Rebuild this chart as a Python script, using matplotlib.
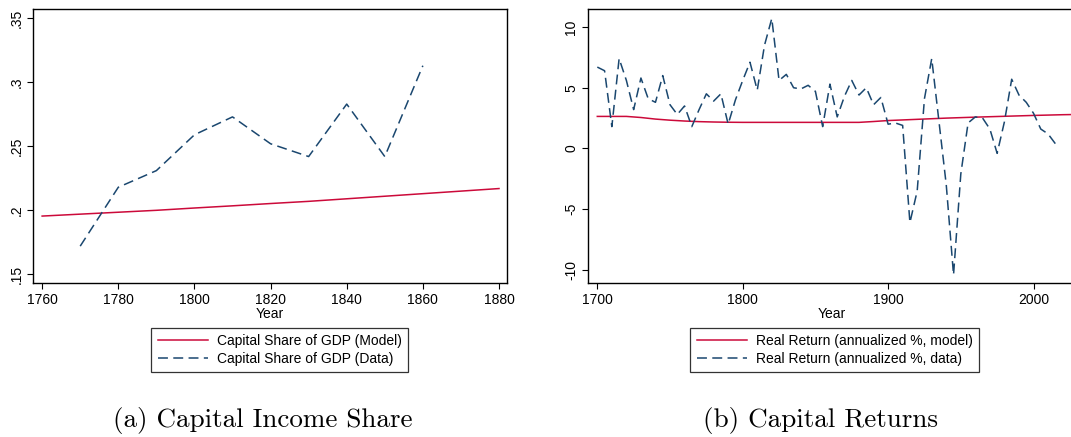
import matplotlib
matplotlib.use("Agg")
import matplotlib.pyplot as plt

# ---- Data: panel (a) ----
share_years_model = [1760, 1770, 1780, 1790, 1800, 1810, 1820, 1830, 1840, 1850, 1860, 1870, 1880]
share_model = [0.1955, 0.1970, 0.1985, 0.2000, 0.2018, 0.2035, 0.2053, 0.2070, 0.2090, 0.2110, 0.2130, 0.2150, 0.2170]
share_years_data = [1770, 1780, 1790, 1800, 1810, 1820, 1830, 1840, 1850, 1860]
share_data = [0.172, 0.218, 0.231, 0.259, 0.273, 0.252, 0.242, 0.283, 0.242, 0.313]
share_xticks = [1760, 1780, 1800, 1820, 1840, 1860, 1880]
share_yticks = [0.15, 0.2, 0.25, 0.3, 0.35]
share_ylabels = [".15", ".2", ".25", ".3", ".35"]

# ---- Data: panel (b) ----
ret_years_model = [1700, 1710, 1720, 1730, 1740, 1750, 1760, 1770, 1780, 1790, 1800, 1820,
                   1840, 1860, 1880, 1890, 1900, 1920, 1940, 1960, 1980, 2000, 2020, 2030]
ret_model = [2.64, 2.64, 2.64, 2.55, 2.42, 2.33, 2.26, 2.21, 2.18, 2.16, 2.15, 2.15,
             2.15, 2.15, 2.15, 2.22, 2.30, 2.40, 2.50, 2.58, 2.65, 2.72, 2.78, 2.80]
ret_years_data = list(range(1700, 2020, 5))
ret_data = [6.7, 6.4, 1.8, 7.4, 5.6, 3.2, 5.8, 4.1, 3.8, 6.0,
            3.6, 2.8, 3.5, 1.8, 3.2, 4.5, 3.9, 4.5, 2.0, 4.0,
            5.6, 7.1, 4.8, 8.5, 10.7, 5.6, 6.1, 5.0, 4.9, 5.2,
            4.7, 1.8, 5.3, 2.6, 4.3, 5.6, 4.4, 5.0, 3.6, 4.2,
            2.0, 2.1, 1.9, -6.1, -3.5, 4.1, 7.4, 2.2, -3.0, -10.4,
            -2.1, 2.1, 2.6, 2.5, 1.6, -0.4, 2.2, 5.7, 4.4, 3.8,
            2.9, 1.6, 1.2, 0.4]
ret_xticks = [1700, 1800, 1900, 2000]
ret_yticks = [-10, -5, 0, 5, 10]
ret_ylabels = ["-10", "-5", "0", "5", "10"]

RED = "#cc0a3a"
BLUE = "#1a476f"
W, H = 1071, 437
plt.rcParams["font.family"] = ["Liberation Sans", "DejaVu Sans"]
fig = plt.figure(figsize=(W / 100, H / 100), dpi=100)

def ax_rect(x0, y0, x1, y1):
    return [x0 / W, 1 - y1 / H, (x1 - x0) / W, (y1 - y0) / H]

def style(ax):
    ax.tick_params(axis="both", labelsize=10, length=4, width=0.8, color="black", pad=3)
    for s in ax.spines.values():
        s.set_linewidth(1.0)
    ax.set_xlabel("Year", fontsize=10, labelpad=0)

LEG_KW = dict(loc="center", bbox_transform=fig.transFigure, fontsize=10, frameon=True, fancybox=False,
              edgecolor="black", handlelength=3.6, borderpad=0.45, labelspacing=0.3,
              handletextpad=0.65, borderaxespad=0)

# Panel (a)
ax1 = fig.add_axes(ax_rect(33, 9, 507, 283))
ax1.plot(share_years_model, share_model, color=RED, lw=1.1, label="Capital Share of GDP (Model)")
ax1.plot(share_years_data, share_data, color=BLUE, lw=1.1, dashes=(6.5, 3.5), label="Capital Share of GDP (Data)")
ax1.set_xlim(1757.6, 1882.1)
ax1.set_ylim(0.1432, 0.3573)
ax1.set_xticks(share_xticks)
ax1.set_yticks(share_yticks)
ax1.set_yticklabels(share_ylabels, rotation=90, va="center")
style(ax1)
leg1 = ax1.legend(bbox_to_anchor=((149 + 410) / 2 / W, 1 - 350 / H), **LEG_KW)
leg1.get_frame().set_linewidth(0.9)

# Panel (b)
ax2 = fig.add_axes(ax_rect(588, 9, 1075, 283))
ax2.plot(ret_years_model, ret_model, color=RED, lw=1.1, label="Real Return (annualized %, model)")
ax2.plot(ret_years_data, ret_data, color=BLUE, lw=1.1, dashes=(6.5, 3.5), label="Real Return (annualized %, data)")
ax2.set_xlim(1693.6, 1693.6 + (1075 - 588) / 1.454)
ax2.set_ylim(-11.07, 11.48)
ax2.set_xticks(ret_xticks)
ax2.set_yticks(ret_yticks)
ax2.set_yticklabels(ret_ylabels, rotation=90, va="center")
ax2.spines["right"].set_visible(False)
style(ax2)
leg2 = ax2.legend(bbox_to_anchor=((689 + 980) / 2 / W, 1 - 350 / H), **LEG_KW)
leg2.get_frame().set_linewidth(0.9)

# Captions
fig.text(263 / W, 1 - 421 / H, "(a) Capital Income Share", ha="center", va="center",
         fontsize=19.5, family=["cmr10", "DejaVu Serif"])
fig.text(820 / W, 1 - 421 / H, "(b) Capital Returns", ha="center", va="center",
         fontsize=19.5, family=["cmr10", "DejaVu Serif"])

fig.savefig("out.png", dpi=100)
